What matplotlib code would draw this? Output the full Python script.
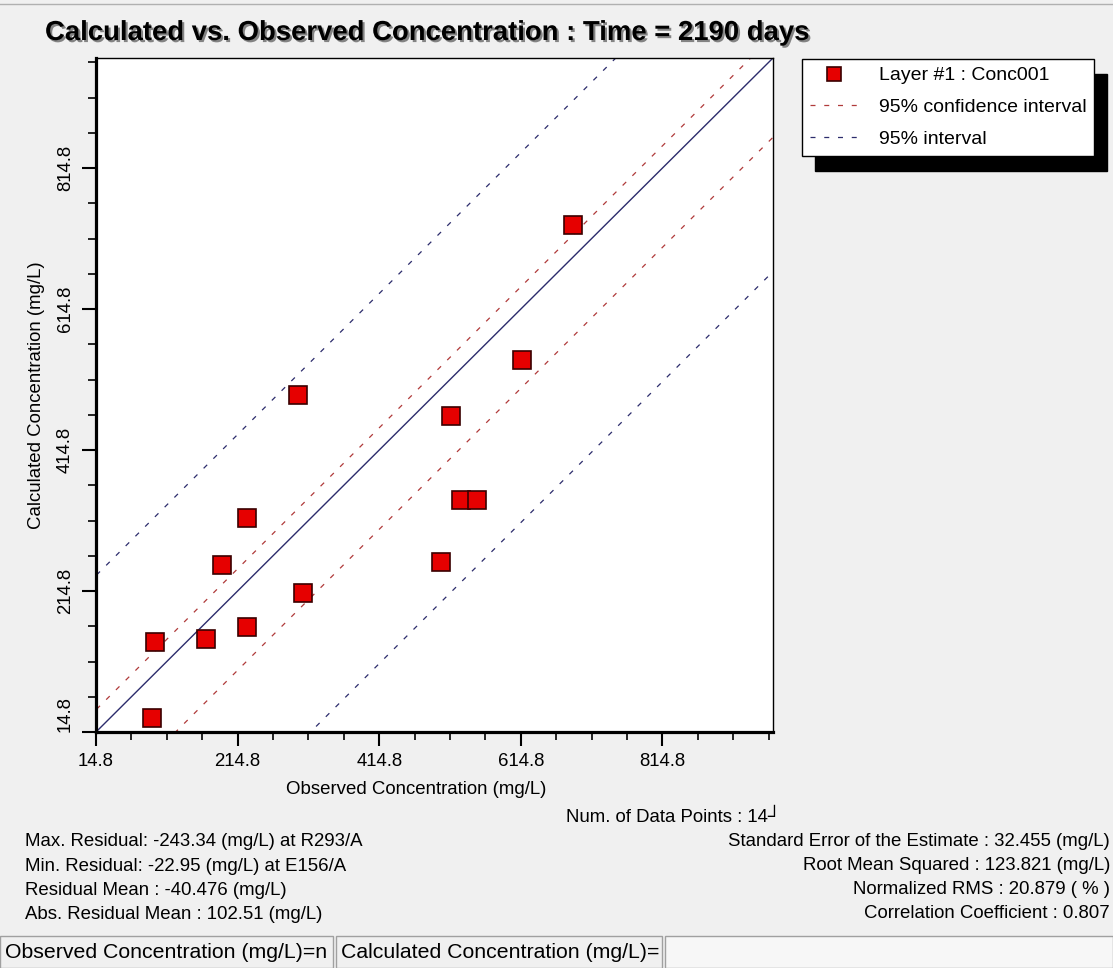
import numpy as np
import matplotlib
matplotlib.use("Agg")
import matplotlib.pyplot as plt
import matplotlib.patheffects as pe
from matplotlib.patches import Rectangle
from matplotlib.lines import Line2D
from matplotlib.transforms import Bbox

plt.rcParams['font.family'] = ['Liberation Sans', 'DejaVu Sans']

# data
observed = [94.1, 97.9, 170.5, 228.5, 193.1, 228.5, 307.8,
            300.1, 501.6, 516.2, 529.9, 552.6, 616.3, 687.9]
calculated = [35.1, 142.1, 146.8, 164.3, 251.8, 319.0, 211.7,
              493.2, 256.5, 462.4, 344.1, 344.1, 542.8, 734.5]

axis_min, axis_max = 14.8, 971.0
major_ticks = [14.8, 214.8, 414.8, 614.8, 814.8]
tick_labels = ["14.8", "214.8", "414.8", "614.8", "814.8"]

residual_mean = -40.476
conf_half = 72.0      # 95% confidence interval half width
pred_half = 262.5     # 95% interval half width

left_stats = ["Max. Residual: -243.34 (mg/L) at R293/A",
              "Min. Residual: -22.95 (mg/L) at E156/A",
              "Residual Mean : -40.476 (mg/L)",
              "Abs. Residual Mean : 102.51 (mg/L)"]
right_stats = ["Standard Error of the Estimate : 32.455 (mg/L)",
               "Root Mean Squared : 123.821 (mg/L)",
               "Normalized RMS : 20.879 ( % )",
               "Correlation Coefficient : 0.807"]
num_points = "Num. of Data Points : 14\u2518"

W, H = 1113, 968
BG = '#f0f0f0'


def fx(x):
    return x / W


def fy(y):
    return 1 - y / H


fig = plt.figure(figsize=(W / 100, H / 100), dpi=100, facecolor=BG)
ax = fig.add_axes([fx(96), fy(732), 677 / W, 674 / H])
ax.set_facecolor('white')

# reference lines
xs = np.array([axis_min - 500, axis_max + 500])
ax.plot(xs, xs, color='#2c2c6c', lw=1.0, zorder=2)
l_conf, = ax.plot(xs, xs + residual_mean + conf_half, color='#b03a3a', lw=0.9,
                  dashes=(4, 7), zorder=2, label='95% confidence interval')
ax.plot(xs, xs + residual_mean - conf_half, color='#b03a3a', lw=0.9,
        dashes=(4, 7), zorder=2)
l_pred, = ax.plot(xs, xs + residual_mean + pred_half, color='#2c2c6c', lw=0.9,
                  dashes=(4, 7), zorder=2, label='95% interval')
ax.plot(xs, xs + residual_mean - pred_half, color='#2c2c6c', lw=0.9,
        dashes=(4, 7), zorder=2)

pts, = ax.plot(observed, calculated, 's', ms=13, mfc='#e60000', mec='#3a0000',
               mew=1.2, zorder=3, label='Layer #1 : Conc001')

ax.set_xlim(axis_min, axis_max)
ax.set_ylim(axis_min, axis_max)
ax.set_xticks(major_ticks)
ax.set_yticks(major_ticks)
ax.set_xticks(np.arange(axis_min, axis_max, 50), minor=True)
ax.set_yticks(np.arange(axis_min, axis_max, 50), minor=True)
ax.set_xticklabels(tick_labels)
ax.set_yticklabels(tick_labels, rotation=90, va='center')
ax.get_yticklabels()[0].set_va('bottom')

ax.tick_params(which='major', direction='out', length=10, width=1.5,
               labelsize=13.4, colors='black', pad=5)
ax.tick_params(which='minor', direction='out', length=5.5, width=1.2)
ax.tick_params(axis='y', pad=6)
for s in ['left', 'bottom']:
    ax.spines[s].set_linewidth(2.3)
for s in ['top', 'right']:
    ax.spines[s].set_linewidth(1.0)

ax.set_xlabel("Observed Concentration (mg/L)", fontsize=13.4)
ax.set_ylabel("Calculated Concentration (mg/L)", fontsize=13.4)
ax.xaxis.set_label_coords((416 - 96) / 677, (732 - 781) / 674)
ax.yaxis.set_label_coords((45 - 96) / 677, 0.5)

leg = ax.legend(handles=[pts, l_conf, l_pred], loc='upper left',
                bbox_to_anchor=(fx(802), fy(59)), bbox_transform=fig.transFigure,
                borderaxespad=0, fontsize=14, fancybox=False, framealpha=1,
                edgecolor='black', handlelength=2.5, handletextpad=1.05,
                borderpad=0.4, labelspacing=0.73, markerscale=0.75,
                shadow={'ox': 9, 'oy': -11, 'color': 'black', 'alpha': 1})
leg.get_frame().set_linewidth(1.0)

# title with drop shadow
fig.text(fx(45), fy(33), "Calculated vs. Observed Concentration : Time = 2190 days",
         fontsize=19.8, fontweight='bold', va='center', ha='left',
         path_effects=[pe.withSimplePatchShadow(offset=(1.5, -1.5),
                                                shadow_rgbFace='#555555', alpha=0.7)])

# statistics text
fig.text(fx(566), fy(817), num_points, fontsize=13.4, va='center', ha='left')
for i, s in enumerate(left_stats):
    fig.text(fx(25), fy(842 + 24.3 * i), s, fontsize=13.4, va='center', ha='left')
for i, s in enumerate(right_stats):
    fig.text(fx(1110), fy(841 + 24.3 * i), s, fontsize=13.4, va='center', ha='right')

# top window strip
fig.add_artist(Line2D([0, 1], [fy(4), fy(4)], color='#b0b0b0', lw=1))

# status bar
boxes = [(0, 333), (336, 662), (665, 1113)]
for (x0, x1) in boxes:
    fig.add_artist(Rectangle((fx(x0), fy(968)), (x1 - x0) / W, 32 / H,
                             facecolor='#f7f7f7' if x0 > 600 else BG,
                             edgecolor='#a0a0a0', lw=1))
status = ["Observed Concentration (mg/L)=n", "Calculated Concentration (mg/L)="]
for (x0, x1), s in zip(boxes[:2], status):
    t = fig.text(fx(x0 + 5), fy(952), s, fontsize=15.3, va='center', ha='left')
    t.set_clip_box(Bbox([[x0, 0], [x1 - 2, 40]]))

fig.savefig("out.png", dpi=100, facecolor=BG)
